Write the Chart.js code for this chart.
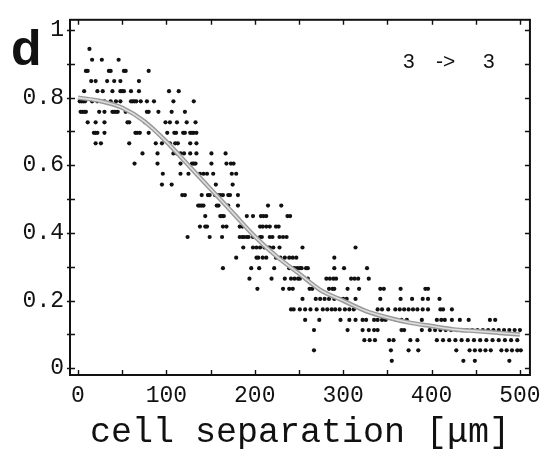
<!DOCTYPE html>
<html>
<head>
  <meta charset="UTF-8">
  <title>cell separation</title>
  <script src="https://cdn.jsdelivr.net/npm/chart.js@4.4.1/dist/chart.umd.min.js"></script>
  <style>
    html, body { margin: 0; padding: 0; background: #fff; }
  </style>
</head>
<body>
<canvas id="myChart" width="548" height="450"></canvas>
<script>
  // dots come in rows: one level per row, separations (um) of the dots on it
  var rowLevels = [0.944, 0.912, 0.879, 0.849, 0.819, 0.789, 0.758, 0.727, 0.696, 0.665, 0.635,
    0.605, 0.575, 0.543, 0.512, 0.481, 0.450, 0.419, 0.388, 0.357, 0.327, 0.296, 0.265, 0.235,
    0.205, 0.174, 0.143, 0.113, 0.083, 0.053, 0.022];
  var rowSeparations = [
    [13],
    [16, 27, 46],
    [9, 11, 35, 37, 52, 54, 80],
    [15, 20, 33, 41, 48, 69],
    [7, 22, 28, 39, 48, 50, 52, 60, 69, 103, 114],
    [2, 4, 6, 8, 16, 22, 30, 37, 43, 48, 60, 62, 64, 66, 71, 78, 86, 108, 131],
    [3, 5, 7, 9, 24, 30, 39, 41, 43, 45, 54, 78, 80, 91, 106, 121],
    [11, 20, 30, 56, 58, 76, 99, 104, 112, 123, 133],
    [18, 20, 22, 30, 65, 67, 70, 80, 101, 109, 111, 119, 121, 127, 129, 131, 134],
    [20, 26, 58, 88, 95, 104, 110, 113, 127, 134],
    [73, 90, 108, 112, 116, 120, 127, 134, 151, 167],
    [64, 90, 116, 129, 131, 133, 151, 168, 173, 176],
    [96, 116, 125, 138, 142, 146, 153, 174, 179],
    [95, 106, 156, 175],
    [118, 121, 140, 147, 149, 155, 158, 161, 164, 170, 172, 181],
    [136, 138, 140, 142, 157, 159, 168, 170, 181, 215, 230],
    [144, 161, 163, 165, 191, 198, 207, 210, 213, 237, 240],
    [138, 144, 146, 164, 168, 183, 186, 206, 209, 213, 217, 224, 227],
    [124, 149, 163, 183, 186, 188, 191, 193, 198, 206, 208, 217, 220, 228, 232, 236],
    [187, 198, 202, 206, 211, 215, 217, 221, 228, 254, 314],
    [179, 202, 204, 209, 213, 224, 229, 234, 239, 243, 247, 290],
    [164, 196, 205, 222, 239, 243, 245, 248, 251, 253, 258, 260, 290, 301, 327],
    [194, 219, 234, 241, 245, 249, 251, 260, 281, 285, 289, 292, 309, 313, 317, 329],
    [203, 232, 239, 243, 262, 265, 284, 288, 290, 305, 318, 342, 346, 365, 393, 396],
    [254, 269, 274, 279, 284, 290, 296, 300, 304, 314, 342, 365, 378, 390, 396, 409],
    [241, 244, 251, 257, 263, 270, 277, 282, 287, 291, 296, 302, 307, 312, 339, 344, 351, 359,
      364, 369, 374, 379, 384, 390, 396, 410, 413, 423],
    [257, 273, 297, 307, 314, 322, 326, 335, 339, 344, 348, 360, 366, 372, 389, 406, 411, 415,
      423, 432, 442, 466, 472],
    [267, 305, 322, 329, 335, 339, 366, 369, 389, 398, 404, 410, 416, 422, 428, 434, 440, 446,
      452, 458, 464, 470, 476, 482, 488, 494, 500],
    [324, 330, 336, 352, 357, 376, 384, 406, 413, 420, 427, 434, 441, 448, 455, 462, 469, 476,
      483, 490, 497],
    [267, 354, 374, 385, 428, 443, 449, 455, 461, 467, 479, 485, 491, 497, 501],
    [355, 436, 449, 488]
  ];

  // grey fitted curve
  var fitSeparation = [0, 25, 50, 75, 100, 125, 150, 175, 200, 225, 250, 275, 300, 325, 350, 375, 400, 425, 450, 475, 500];
  var fitValue = [0.80, 0.79, 0.77, 0.73, 0.67, 0.60, 0.53, 0.46, 0.39, 0.33, 0.28, 0.23, 0.20, 0.17, 0.15, 0.135, 0.125, 0.115, 0.11, 0.105, 0.10];

  var xTickValues = [0, 100, 200, 300, 400, 500];
  var yTickValues = [0, 0.2, 0.4, 0.6, 0.8, 1];
  var yTickLabels = ["0", "0.2", "0.4", "0.6", "0.8", "1"];
  var xMinorTicks = [0, 50, 100, 150, 200, 250, 300, 350, 400, 450, 500];
  var yMinorTicks = [0, 0.1, 0.2, 0.3, 0.4, 0.5, 0.6, 0.7, 0.8, 0.9, 1];

  var dots = [];
  rowLevels.forEach(function (lv, i) {
    rowSeparations[i].forEach(function (s) { dots.push({ x: s, y: lv }); });
  });
  var fit = fitSeparation.map(function (s, i) { return { x: s, y: fitValue[i] }; });

  var monoTicks = { family: "'Liberation Mono', 'Courier New', monospace", size: 23 };

  // box with inward tick marks, panel letter and the 3 -> 3 note
  var framePlugin = {
    id: 'frame',
    afterDatasetsDraw: function (chart) {
      var ctx = chart.ctx, a = chart.chartArea;
      var xs = chart.scales.x, ys = chart.scales.y;
      ctx.save();
      ctx.strokeStyle = '#111';
      ctx.lineWidth = 2;
      ctx.strokeRect(a.left, a.top, a.right - a.left, a.bottom - a.top);
      ctx.lineWidth = 1.4;
      ctx.beginPath();
      xMinorTicks.forEach(function (v) {
        var px = Math.round(xs.getPixelForValue(v)) + 0.5;
        ctx.moveTo(px, a.bottom); ctx.lineTo(px, a.bottom - 5);
        ctx.moveTo(px, a.top); ctx.lineTo(px, a.top + 5);
      });
      yMinorTicks.forEach(function (v) {
        var py = Math.round(ys.getPixelForValue(v)) + 0.5;
        ctx.moveTo(a.left - 3, py); ctx.lineTo(a.left + 5, py);
        ctx.moveTo(a.right, py); ctx.lineTo(a.right - 5, py);
      });
      ctx.stroke();

      ctx.fillStyle = '#111';
      ctx.textBaseline = 'alphabetic';
      ctx.textAlign = 'left';
      ctx.font = "bold 50px 'Liberation Sans', Arial, sans-serif";
      ctx.fillText('d', 11, 65);
      ctx.font = "21px 'Liberation Sans', Arial, sans-serif";
      ctx.fillText('3', 403, 68);
      ctx.fillText('->', 436, 68);
      ctx.fillText('3', 483, 68);
      ctx.restore();
    }
  };

  new Chart(document.getElementById('myChart'), {
    type: 'scatter',
    data: {
      datasets: [
        {
          label: 'cells',
          data: dots,
          pointRadius: 2.1,
          pointBorderWidth: 0,
          pointBackgroundColor: '#111',
          order: 3
        },
        {
          type: 'line',
          label: 'fit edge',
          data: fit,
          borderColor: '#9a9a9a',
          borderWidth: 4.5,
          pointRadius: 0,
          cubicInterpolationMode: 'monotone',
          fill: false,
          order: 2
        },
        {
          type: 'line',
          label: 'fit',
          data: fit,
          borderColor: '#dedede',
          borderWidth: 1.6,
          pointRadius: 0,
          cubicInterpolationMode: 'monotone',
          fill: false,
          order: 1
        }
      ]
    },
    options: {
      responsive: false,
      animation: false,
      layout: { padding: { top: 19, right: 16, left: 0, bottom: 0 } },
      plugins: { legend: { display: false }, tooltip: { enabled: false } },
      scales: {
        x: {
          type: 'linear',
          min: -9,
          max: 511.3,
          afterFit: function (s) { s.height = 75; },
          afterBuildTicks: function (s) { s.ticks = xTickValues.map(function (v) { return { value: v }; }); },
          grid: { display: false, drawTicks: false },
          border: { display: false },
          ticks: { color: '#111', font: monoTicks, padding: 7, maxRotation: 0 },
          title: {
            display: true,
            text: 'cell separation [\u03bcm]',
            color: '#111',
            font: { family: "'Liberation Mono', 'Courier New', monospace", size: 35, lineHeight: 1 },
            padding: 0
          }
        },
        y: {
          type: 'linear',
          min: -0.0198,
          max: 1.03,
          afterFit: function (s) { s.width = 70; },
          afterBuildTicks: function (s) { s.ticks = yTickValues.map(function (v) { return { value: v }; }); },
          grid: { display: false, drawTicks: false },
          border: { display: false },
          ticks: {
            color: '#111', font: monoTicks, padding: 6,
            callback: function (v) {
              var i = yTickValues.indexOf(v);
              return i >= 0 ? yTickLabels[i] : '';
            }
          }
        }
      }
    },
    plugins: [framePlugin]
  });
</script>
</body>
</html>
